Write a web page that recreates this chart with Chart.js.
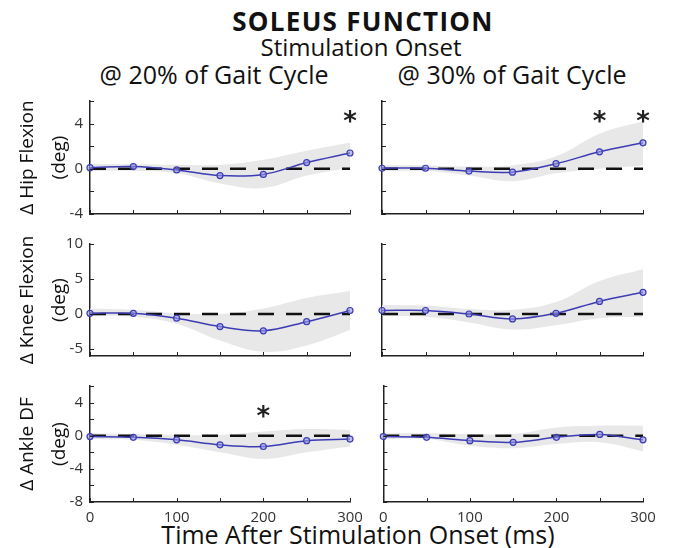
<!DOCTYPE html>
<html lang="en">
<head>
<meta charset="UTF-8">
<title>Soleus Function</title>
<script src="https://cdn.jsdelivr.net/npm/chart.js"></script>
<style>
  body { margin: 0; background: #fff; font-family: "Open Sans", sans-serif; }
  #page { position: relative; width: 673px; height: 548px; overflow: hidden; }
  .txt { position: absolute; white-space: nowrap; color: #111; transform: translateX(-50%); line-height: 1; }
  .panel { position: absolute; }
</style>
</head>
<body>
<div id="page">
  <div class="txt" style="left:363px;top:8px;font-size:26px;font-weight:bold;letter-spacing:1.3px;">SOLEUS FUNCTION</div>
  <div class="txt" style="left:361px;top:35px;font-size:24px;">Stimulation Onset</div>
  <div class="txt" style="left:214px;top:62px;font-size:25px;">@ 20% of Gait Cycle</div>
  <div class="txt" style="left:512px;top:62px;font-size:25px;">@ 30% of Gait Cycle</div>
  <div class="txt" style="left:358px;top:522px;font-size:25px;">Time After Stimulation Onset (ms)</div>
</div>
<script>
// time after stimulation onset (ms)
const timeMs = [0, 50, 100, 150, 200, 250, 300];
const timeTicks = [0, 50, 100, 150, 200, 250, 300];
const timeTickLabels = [0, 100, 200, 300];

// y ticks per joint
const hipTicks = [-4, -2, 0, 2, 4, 6];
const hipTickLabels = [-4, 0, 4];
const kneeTicks = [-5, 0, 5, 10];
const kneeTickLabels = [-5, 0, 5, 10];
const ankleTicks = [-8, -6, -4, -2, 0, 2, 4, 6];
const ankleTickLabels = [-8, -4, 0, 4];

// hip flexion, onset @ 20%
const hip20Mean  = [0.1, 0.2, -0.1, -0.6, -0.5, 0.55, 1.4];
const hip20Upper = [0.45, 0.4, 0.35, 0.35, 0.8, 1.6, 2.3];
const hip20Lower = [-0.2, -0.2, -0.4, -1.3, -1.7, -0.6, 0.1];
const hip20Stars = [300];
// hip flexion, onset @ 30%
const hip30Mean  = [0.05, 0.05, -0.2, -0.3, 0.45, 1.5, 2.3];
const hip30Upper = [0.3, 0.3, 0.2, 0.3, 1.1, 3.1, 4.2];
const hip30Lower = [-0.2, -0.2, -0.6, -1.1, -0.4, 0.0, 0.3];
const hip30Stars = [250, 300];

// knee flexion, onset @ 20%
const knee20Mean  = [0.1, 0.1, -0.6, -1.8, -2.4, -1.1, 0.5];
const knee20Upper = [0.8, 0.6, 0.1, 0.0, 0.8, 2.3, 3.3];
const knee20Lower = [-0.3, -0.4, -1.4, -3.8, -5.4, -4.5, -2.3];
// knee flexion, onset @ 30%
const knee30Mean  = [0.5, 0.5, 0.0, -0.7, 0.1, 1.8, 3.1];
const knee30Upper = [1.3, 1.2, 0.7, 0.6, 1.7, 4.7, 6.4];
const knee30Lower = [-0.3, -0.4, -1.2, -2.2, -1.6, -0.6, -0.4];

// ankle dorsiflexion, onset @ 20%
const ankle20Mean  = [-0.1, -0.2, -0.5, -1.1, -1.3, -0.6, -0.4];
const ankle20Upper = [0.3, 0.2, 0.1, 0.1, 0.5, 0.8, 0.7];
const ankle20Lower = [-0.4, -0.5, -1.1, -2.0, -2.8, -2.0, -1.3];
const ankle20Stars = [200];
// ankle dorsiflexion, onset @ 30%
const ankle30Mean  = [-0.1, -0.2, -0.6, -0.8, -0.2, 0.15, -0.5];
const ankle30Upper = [0.3, 0.3, 0.2, 0.2, 1.0, 1.2, 1.2];
const ankle30Lower = [-0.4, -0.4, -1.2, -1.5, -1.0, -0.8, -1.9];

const rows = [
  { title: ['Δ Hip Flexion', '(deg)'], min: -4, max: 6, ticks: hipTicks, labels: hipTickLabels, star: 4.8 },
  { title: ['Δ Knee Flexion', '(deg)'], min: -6, max: 10, ticks: kneeTicks, labels: kneeTickLabels, star: 8 },
  { title: ['Δ Ankle DF', '(deg)'], min: -8, max: 6, ticks: ankleTicks, labels: ankleTickLabels, star: 3.1 }
];

const panels = [
  { row: 0, col: 0, mean: hip20Mean, upper: hip20Upper, lower: hip20Lower, stars: hip20Stars },
  { row: 0, col: 1, mean: hip30Mean, upper: hip30Upper, lower: hip30Lower, stars: hip30Stars },
  { row: 1, col: 0, mean: knee20Mean, upper: knee20Upper, lower: knee20Lower, stars: [] },
  { row: 1, col: 1, mean: knee30Mean, upper: knee30Upper, lower: knee30Lower, stars: [] },
  { row: 2, col: 0, mean: ankle20Mean, upper: ankle20Upper, lower: ankle20Lower, stars: ankle20Stars },
  { row: 2, col: 1, mean: ankle30Mean, upper: ankle30Upper, lower: ankle30Lower, stars: [] }
];

// plot area of each panel in page pixels
const colX = [[90, 350], [382, 643]];
const rowY = [[97, 218], [240, 360], [382, 502]];

const pts = arr => timeMs.map((t, i) => ({ x: t, y: arr[i] }));

// MATLAB style ticks pointing into the plot
const inwardTicks = {
  id: 'inwardTicks',
  afterDraw(chart) {
    const { ctx, chartArea: a, scales: { x, y } } = chart;
    ctx.save();
    ctx.strokeStyle = '#222';
    ctx.lineWidth = 1;
    x.ticks.forEach(t => {
      const px = Math.round(x.getPixelForValue(t.value)) + 0.5;
      ctx.beginPath(); ctx.moveTo(px, a.bottom); ctx.lineTo(px, a.bottom - 4); ctx.stroke();
    });
    y.ticks.forEach(t => {
      const py = Math.round(y.getPixelForValue(t.value)) + 0.5;
      ctx.beginPath(); ctx.moveTo(a.left, py); ctx.lineTo(a.left + 4, py); ctx.stroke();
    });
    ctx.restore();
  }
};

const stars = {
  id: 'stars',
  afterDatasetsDraw(chart, args, opts) {
    if (!opts.at || !opts.at.length) return;
    const { ctx, scales: { x, y } } = chart;
    ctx.save();
    ctx.font = 'bold 26px "DejaVu Sans"';
    ctx.textAlign = 'center';
    ctx.textBaseline = 'alphabetic';
    ctx.fillStyle = '#222';
    opts.at.forEach(v => ctx.fillText('*', x.getPixelForValue(v), y.getPixelForValue(opts.level) + 15));
    ctx.restore();
  }
};

const page = document.getElementById('page');

panels.forEach(p => {
  const r = rows[p.row];
  const left = p.col === 0;
  const bottom = p.row === 2;
  const [ax0, ax1] = colX[p.col];
  const [ay0, ay1] = rowY[p.row];
  const yw = left ? 90 : 10;
  const padR = 22, padT = 12;
  const xh = bottom ? 28 : 12;

  const div = document.createElement('div');
  div.className = 'panel';
  div.style.left = (ax0 - yw) + 'px';
  div.style.top = (ay0 - padT) + 'px';
  const cv = document.createElement('canvas');
  cv.width = ax1 - ax0 + yw + padR;
  cv.height = ay1 - ay0 + padT + xh;
  div.appendChild(cv);
  page.appendChild(div);

  new Chart(cv, {
    type: 'line',
    data: {
      datasets: [
        {
          data: pts(p.mean), order: 0, clip: false,
          borderColor: '#3c3cb4', borderWidth: 1.5, tension: 0.35,
          pointRadius: 3, pointBorderWidth: 1.2,
          pointBorderColor: '#3c3cb4', pointBackgroundColor: 'rgba(150,150,230,0.6)'
        },
        {
          data: [{ x: 0, y: 0 }, { x: 300, y: 0 }], order: 1,
          borderColor: '#111', borderWidth: 2.5, borderDash: [16, 12], pointRadius: 0
        },
        {
          data: pts(p.lower), order: 3, borderWidth: 0, pointRadius: 0, tension: 0.4,
          borderColor: 'rgba(0,0,0,0)'
        },
        {
          data: pts(p.upper), order: 2, borderWidth: 0, pointRadius: 0, tension: 0.4,
          borderColor: 'rgba(0,0,0,0)', fill: '-1', backgroundColor: '#e8e8e8'
        }
      ]
    },
    options: {
      responsive: false,
      animation: false,
      events: [],
      layout: { autoPadding: false, padding: { top: padT, right: padR, left: 0, bottom: 0 } },
      plugins: {
        legend: { display: false },
        tooltip: { enabled: false },
        stars: { at: p.stars, level: r.star }
      },
      scales: {
        x: {
          type: 'linear', min: 0, max: 300,
          afterBuildTicks: s => { s.ticks = timeTicks.map(v => ({ value: v })); },
          afterFit: s => { s.height = xh; },
          grid: { display: false, drawTicks: false },
          border: { display: true, color: '#222', width: 1.5 },
          ticks: {
            display: bottom, padding: 7, color: '#333', maxRotation: 0, autoSkip: false,
            font: { family: '"Open Sans"', size: 15 },
            callback: v => timeTickLabels.includes(v) ? v : ''
          }
        },
        y: {
          min: r.min, max: r.max,
          afterBuildTicks: s => { s.ticks = r.ticks.map(v => ({ value: v })); },
          afterFit: s => { s.width = yw; },
          grid: { display: false, drawTicks: false },
          border: { display: true, color: '#222', width: 1.5 },
          ticks: {
            padding: 7, color: '#333', autoSkip: false,
            font: { family: '"Open Sans"', size: 15 },
            callback: v => left && r.labels.includes(v) ? v : ''
          },
          title: {
            display: left, text: r.title, color: '#111',
            font: { family: '"Open Sans"', size: 19, lineHeight: 1.7 },
            padding: { top: 11, bottom: 0 }
          }
        }
      }
    },
    plugins: [inwardTicks, stars]
  });
});
</script>
</body>
</html>
